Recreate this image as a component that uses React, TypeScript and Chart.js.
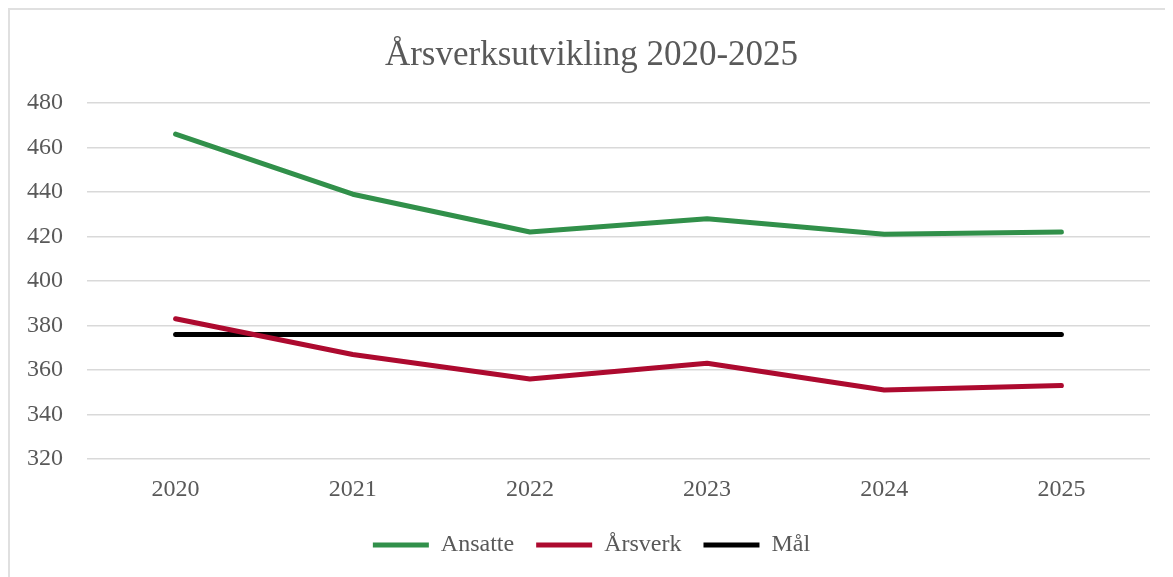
import React, { useEffect, useRef } from "react";
import { Chart, registerables } from "chart.js";

Chart.register(...registerables);

const categories = ["2020", "2021", "2022", "2023", "2024", "2025"];
const ansatte = [466, 439, 422, 428, 421, 422];
const arsverk = [383, 367, 356, 363, 351, 353];
const maal = [376, 376, 376, 376, 376, 376];
const yMin = 320;
const yMax = 480;
const yStep = 20;
const titleText = "Årsverksutvikling 2020-2025";

const FONT = "'Liberation Serif', 'DejaVu Serif', serif";
const TEXT = "#595959";
const GRID = "#d9d9d9";

export default function App() {
  const ref = useRef<HTMLCanvasElement | null>(null);

  useEffect(() => {
    document.documentElement.style.overflow = "hidden";
    document.body.style.overflow = "hidden";
    const ctx = ref.current;
    if (!ctx) return;
    const lineDs = (label: string, data: number[], color: string) => ({
      label,
      data,
      borderColor: color,
      backgroundColor: color,
      borderWidth: 5,
      borderCapStyle: "round" as const,
      borderJoinStyle: "round" as const,
      pointRadius: 0,
      pointHoverRadius: 0,
      pointStyle: "line" as const,
      tension: 0,
      fill: false,
      yAxisID: "y",
    });
    const chart = new Chart(ctx, {
      type: "line",
      data: {
        labels: categories,
        datasets: [
          lineDs("Ansatte", ansatte, "#31904A"),
          lineDs("Årsverk", arsverk, "#AD0A2F"),
          lineDs("Mål", maal, "#000000"),
        ],
      },
      options: {
        animation: false,
        responsive: true,
        maintainAspectRatio: false,
        layout: { padding: { top: 0, left: 0, right: 0, bottom: 10 } },
        plugins: {
          title: {
            display: true,
            text: titleText,
            color: TEXT,
            font: { family: FONT, size: 35, weight: "normal" },
            padding: { top: 25, bottom: 26 },
          },
          legend: {
            display: true,
            position: "bottom",
            labels: {
              usePointStyle: true,
              pointStyle: "line",
              pointStyleWidth: 56,
              boxHeight: 5,
              padding: 22,
              color: TEXT,
              font: { family: FONT, size: 24 },
            },
          },
          tooltip: { enabled: false },
        },
        scales: {
          x: {
            offset: true,
            grid: { display: false, drawTicks: false },
            border: { display: false },
            ticks: {
              color: TEXT,
              font: { family: FONT, size: 24 },
              padding: 16,
              maxRotation: 0,
            },
            afterFit: (s: any) => {
              s.height = 52;
            },
          },
          y: {
            min: yMin,
            max: yMax,
            grid: { color: GRID, lineWidth: 1.5, drawTicks: false },
            border: { display: false },
            ticks: {
              stepSize: yStep,
              color: TEXT,
              font: { family: FONT, size: 24 },
              padding: 24,
            },
            afterFit: (s: any) => {
              s.width = 77;
            },
          },
          yRight: {
            position: "right",
            display: true,
            grid: { display: false, drawTicks: false },
            border: { display: false },
            ticks: { display: false },
            afterFit: (s: any) => {
              s.width = 23;
            },
          },
        },
      },
    });
    return () => chart.destroy();
  }, []);

  return (
    <div
      style={{
        width: 1163,
        height: 567,
        borderTop: "2px solid #e0e0e0",
        borderLeft: "2px solid #e0e0e0",
        position: "relative",
        background: "#fff",
      }}
    >
      <canvas ref={ref} />
    </div>
  );
}
